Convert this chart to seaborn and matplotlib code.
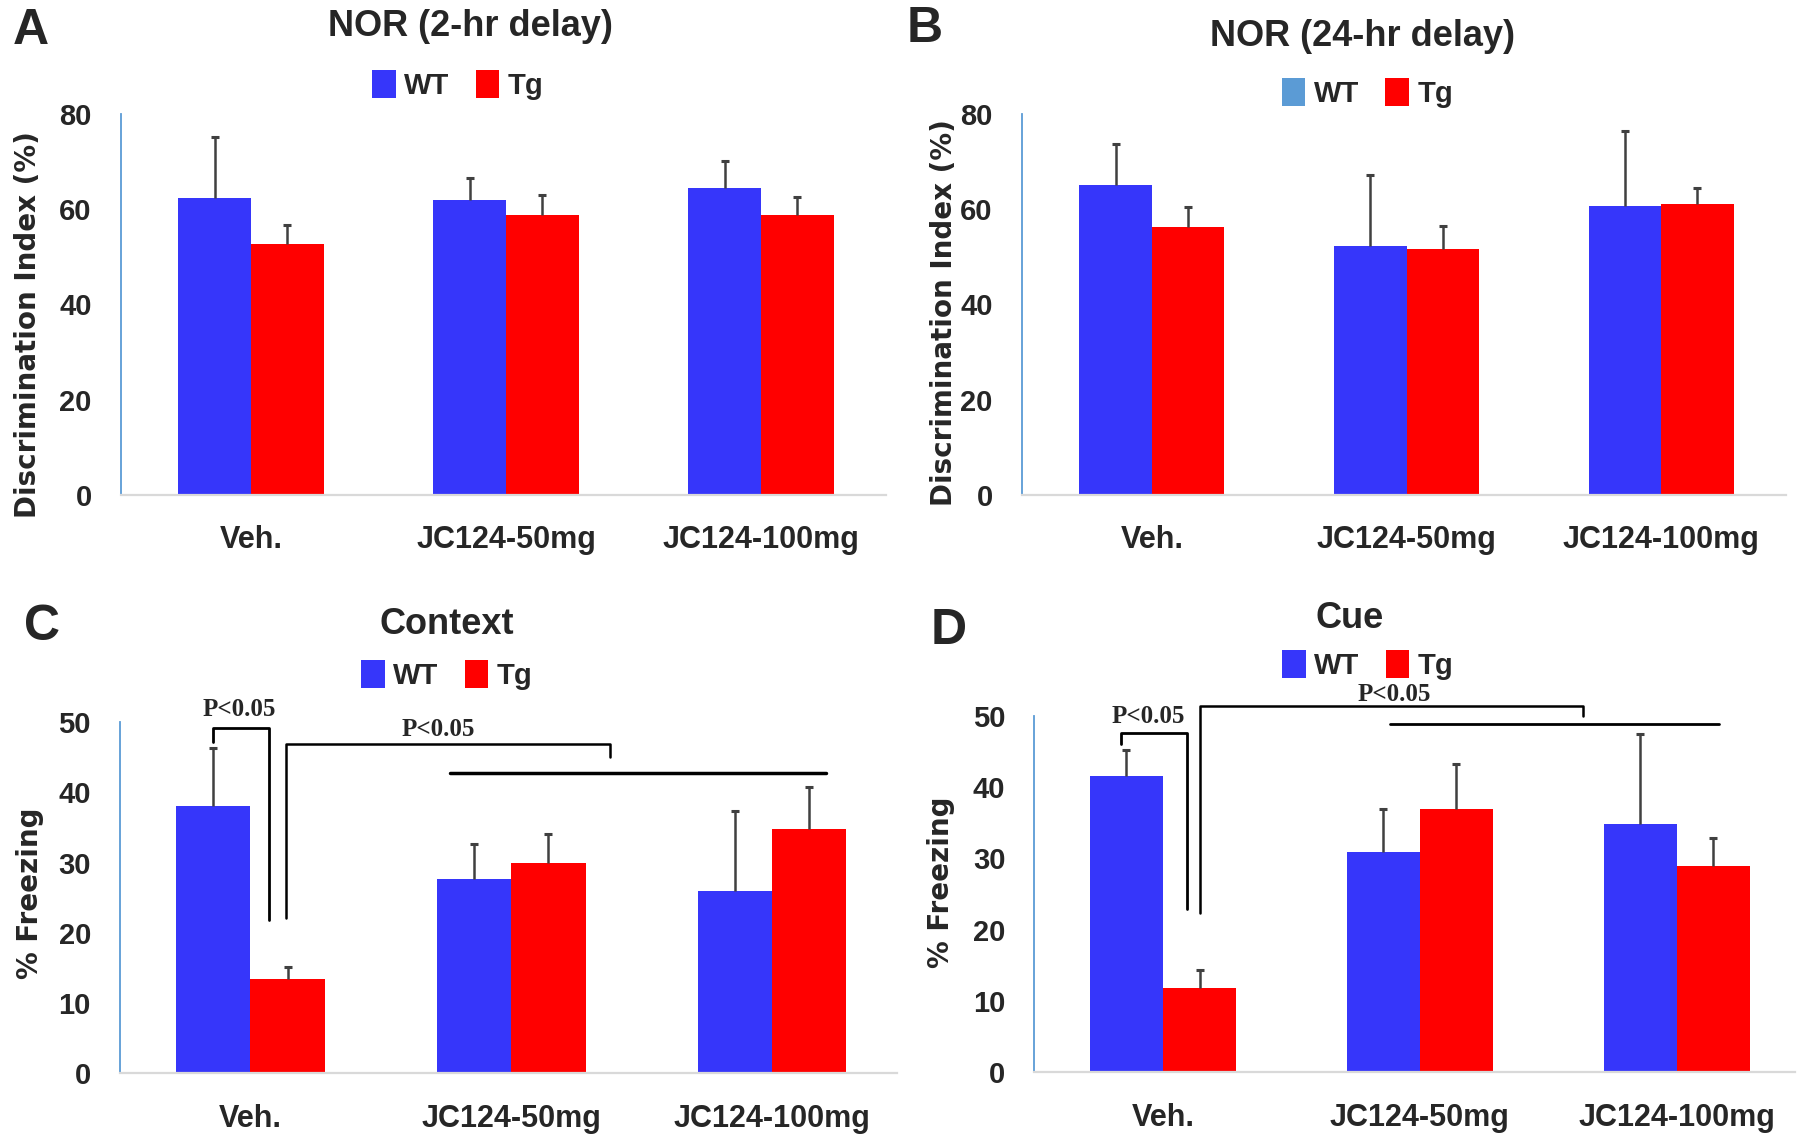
import matplotlib
matplotlib.use("Agg")
import matplotlib.pyplot as plt
import seaborn as sns
import pandas as pd
import numpy as np

# group labels and bar values (mean, upper SEM)
groups = ["Veh.", "JC124-50mg", "JC124-100mg"]

nor2_wt = [62.4, 62.0, 64.5]
nor2_wt_err = [12.9, 4.7, 5.7]
nor2_tg = [52.7, 58.9, 58.9]
nor2_tg_err = [4.1, 4.1, 3.7]

nor24_wt = [65.1, 52.2, 60.7]
nor24_wt_err = [8.7, 15.0, 15.7]
nor24_tg = [56.2, 51.7, 61.2]
nor24_tg_err = [4.2, 4.8, 3.3]

ctx_wt = [38.0, 27.6, 26.0]
ctx_wt_err = [8.3, 5.1, 11.4]
ctx_tg = [13.5, 29.9, 34.8]
ctx_tg_err = [1.7, 4.2, 6.0]

cue_wt = [41.6, 30.9, 34.9]
cue_wt_err = [3.6, 6.0, 12.6]
cue_tg = [11.75, 37.0, 28.9]
cue_tg_err = [2.55, 6.2, 3.9]

BLUE = "#3636FA"
RED = "#FF0000"
AXBLUE = "#5B9BD5"

sns.set_style("white")
plt.rcParams["font.family"] = ["Liberation Sans", "DejaVu Sans"]
plt.rcParams["font.weight"] = "bold"


def draw_panel(ax, wt, wt_err, tg, tg_err, ymax, step, xlim, ylabel, label_xy):
    df = pd.DataFrame({
        "group": groups * 2,
        "geno": ["WT"] * 3 + ["Tg"] * 3,
        "value": wt + tg,
    })
    sns.barplot(data=df, x="group", y="value", hue="geno",
                palette={"WT": BLUE, "Tg": RED}, width=0.57, errorbar=None,
                saturation=1, linewidth=0, ax=ax)
    for cont, err in zip(ax.containers, [wt_err, tg_err]):
        xs = [p.get_x() + p.get_width() / 2 for p in cont]
        ys = [p.get_height() for p in cont]
        eb = ax.errorbar(xs, ys, yerr=[np.zeros(len(err)), err], fmt="none",
                         ecolor="#404040", elinewidth=1.8, capsize=3, capthick=2.2)
        # only the upper cap, like the original
        eb[1][0].set_visible(False)
    ax.set_ylim(0, ymax)
    ax.set_yticks(np.arange(0, ymax + 1, step))
    ax.set_xlim(*xlim)
    ax.set_xlabel("")
    ax.set_ylabel(ylabel, fontsize=20, fontweight="bold", family="DejaVu Sans")
    ax.yaxis.set_label_coords(*label_xy)
    for s in ["top", "right"]:
        ax.spines[s].set_visible(False)
    ax.spines["left"].set_color(AXBLUE)
    ax.spines["left"].set_linewidth(1.3)
    ax.spines["bottom"].set_color("#D9D9D9")
    ax.spines["bottom"].set_linewidth(1.6)
    ax.tick_params(axis="y", direction="out", length=7, width=1.3, color=AXBLUE,
                   pad=14, labelsize=21)
    ax.tick_params(axis="x", length=0, pad=22, labelsize=22)
    handles, labels = ax.get_legend_handles_labels()
    ax.legend_.remove()
    return handles, labels


def add_legend(ax, handles, labels, xy, wt_color=None):
    leg = ax.legend(handles, labels, loc="center", bbox_to_anchor=xy,
                    bbox_transform=ax.figure.transFigure, ncol=2, frameon=False,
                    fontsize=21, handlelength=0.8, handleheight=1.1,
                    handletextpad=0.3, columnspacing=0.9)
    if wt_color is not None:
        leg.legend_handles[0].set_facecolor(wt_color)


def pval(ax, x, y, txt="P<0.05"):
    ax.text(x, y, txt, ha="center", va="center", fontsize=18, fontweight="bold",
            family=["Liberation Serif", "DejaVu Serif"], clip_on=False)


fig = plt.figure(figsize=(18, 11.42), dpi=100)
axA = fig.add_axes([0.0672, 0.5669, 0.425, 0.333])
axB = fig.add_axes([0.5678, 0.5669, 0.4244, 0.333])
axC = fig.add_axes([0.0667, 0.0600, 0.4317, 0.3078])
axD = fig.add_axes([0.5747, 0.0613, 0.4225, 0.3117])

h, l = draw_panel(axA, nor2_wt, nor2_wt_err, nor2_tg, nor2_tg_err, 80, 20,
                  (-0.51, 2.49), "Discrimination Index (%)", (-0.103, 0.448))
add_legend(axA, h, l, (0.2545, 0.9256))

h, l = draw_panel(axB, nor24_wt, nor24_wt_err, nor24_tg, nor24_tg_err, 80, 20,
                  (-0.51, 2.49), "Discrimination Index (%)", (-0.084, 0.48))
add_legend(axB, h, l, (0.7597, 0.9186), wt_color=AXBLUE)

h, l = draw_panel(axC, ctx_wt, ctx_wt_err, ctx_tg, ctx_tg_err, 50, 10,
                  (-0.50, 2.48), "% Freezing", (-0.098, 0.513))
add_legend(axC, h, l, (0.2483, 0.4089))

h, l = draw_panel(axD, cue_wt, cue_wt_err, cue_tg, cue_tg_err, 50, 10,
                  (-0.50, 2.46), "% Freezing", (-0.105, 0.532))
add_legend(axD, h, l, (0.76, 0.4177))

# significance brackets, panel C
axC.plot([-0.142, -0.142, 0.071, 0.071], [47.1, 49.2, 49.2, 21.8],
         color="black", lw=2, clip_on=False)
pval(axC, -0.044, 51.8)
axC.plot([0.137, 0.137, 1.379, 1.379], [22.05, 46.9, 46.9, 45.0],
         color="black", lw=1.8, clip_on=False)
pval(axC, 0.72, 49.0)
axC.plot([0.765, 2.206], [42.7, 42.7], color="black", lw=2.5, clip_on=False)

# significance brackets, panel D
axD.plot([-0.162, -0.162, 0.094, 0.094], [46.1, 47.6, 47.6, 22.9],
         color="black", lw=2, clip_on=False)
pval(axD, -0.056, 50.0)
axD.plot([0.144, 0.144, 1.636, 1.636], [22.4, 51.4, 51.4, 50.0],
         color="black", lw=1.8, clip_on=False)
pval(axD, 0.899, 53.0)
axD.plot([0.883, 2.164], [48.9, 48.9], color="black", lw=2, clip_on=False)

# titles and panel letters
titles = [("NOR (2-hr delay)", 470, 27), ("NOR (24-hr delay)", 1362, 37),
          ("Context", 447, 625), ("Cue", 1350, 618)]
for txt, x, y in titles:
    fig.text(x / 1800, 1 - y / 1142, txt, ha="center", va="center",
             fontsize=26, fontweight="bold")

letters = [("A", 31, 31), ("B", 925, 29), ("C", 42, 627), ("D", 949, 631)]
for txt, x, y in letters:
    fig.text(x / 1800, 1 - y / 1142, txt, ha="center", va="center",
             fontsize=36, fontweight="bold")

fig.savefig("out.png", dpi=100)
